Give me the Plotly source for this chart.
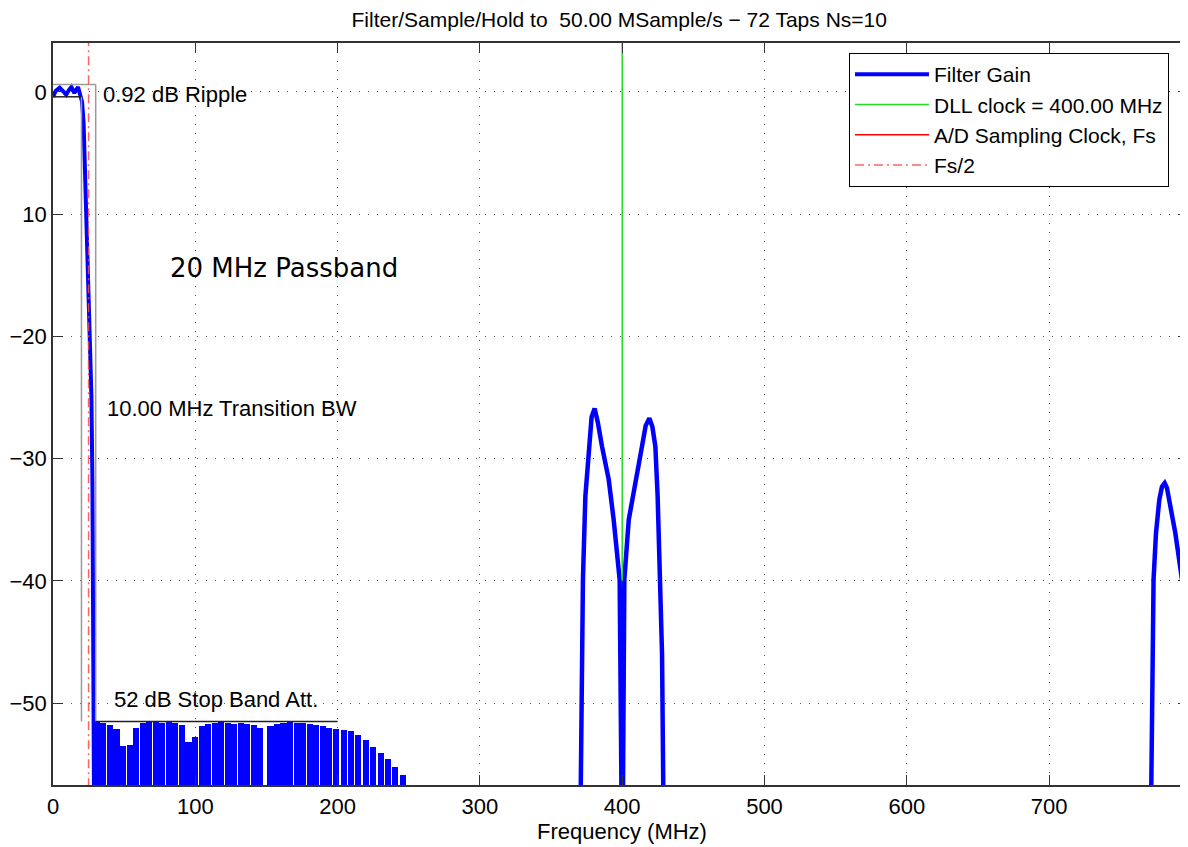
import plotly.graph_objects as go

# ---------------- data ----------------
title_text = "Filter/Sample/Hold to\u00a0 50.00 MSample/s \u2212 72 Taps Ns=10"

# passband ripple + transition band (MHz, dB)
pass_freq = [0.0, 2.0, 4.7, 7.0, 9.3, 11.2, 12.9, 14.2, 15.0, 16.2, 17.6, 19.2,
             20.4, 21.5, 22.2, 23.4, 24.6, 25.7, 27.0, 27.7, 28.1, 28.6, 28.9]
pass_gain = [-0.4, 0.1, 0.35, 0.05, -0.22, 0.15, 0.4, 0.1, -0.1, 0.15, 0.4, -0.3,
             -0.8, -2.5, -5.3, -9.9, -15.4, -20.0, -24.9, -32.0, -39.9, -47.5, -60.0]

# stop-band side-lobe peaks (MHz, dB)
stop_freq = [30.8, 35.4, 40.0, 44.6, 49.2, 53.8, 58.4, 63.0, 67.6, 72.2, 76.8,
             81.4, 86.0, 90.6, 95.2, 99.8, 104.4, 109.0, 113.6, 118.2, 122.8,
             127.4, 132.0, 136.6, 141.2, 145.6, 152.8, 157.4, 162.0, 166.6,
             171.2, 175.8, 180.4, 185.0, 189.6, 194.2, 198.8, 204.2, 209.4,
             214.6, 219.8, 225.0, 230.2, 235.4, 240.6, 245.8]
stop_peak = [-51.5, -51.6, -51.8, -52.1, -53.5, -53.4, -52.0, -51.6, -51.5, -51.5,
             -51.6, -51.5, -51.6, -51.8, -53.2, -52.8, -51.9, -51.7, -51.6, -51.5,
             -51.6, -51.7, -51.6, -51.7, -51.8, -52.0, -51.9, -51.7, -51.6, -51.5,
             -51.6, -51.6, -51.7, -51.8, -51.9, -52.0, -52.1, -52.2, -52.3, -52.6,
             -53.0, -53.6, -54.1, -54.6, -55.2, -55.9]
stop_floor = -60.0

# image response around the 400 MHz DLL clock
img400_freq = [370.6, 371.5, 372.4, 374.1, 376.4, 378.5, 380.6, 382.8, 385.8, 390.5,
               394.0, 398.2, 399.4, 400.0, 400.6, 401.5, 404.6, 409.3, 413.9, 416.5,
               419.1, 421.2, 423.3, 424.9, 426.8, 428.0, 429.1]
img400_gain = [-60.0, -45.6, -39.9, -33.1, -29.0, -26.6, -25.9, -27.0, -29.0, -31.7,
               -35.0, -39.9, -56.0, -70.0, -56.0, -39.9, -35.0, -31.7, -29.0, -27.3,
               -26.7, -27.4, -29.0, -33.1, -39.9, -46.0, -60.0]

# image response near 780 MHz
img780_freq = [771.5, 772.7, 773.4, 775.1, 777.4, 779.3, 781.2, 782.8, 784.5, 788.7,
               793.4, 795.7, 797.3, 800.7]
img780_gain = [-60.0, -45.6, -39.9, -36.1, -33.4, -32.3, -32.0, -32.4, -33.4, -36.1,
               -39.9, -42.9, -46.2, -49.7]

dll_clock = 400.0
dll_line_gain = [-40.0, 4.0]
fs = 50.0
fs_half = 25.0

ripple_top = 0.6
ripple_bottom = -0.4
passband_edge = 20.0
stopband_edge = 30.0
stopband_att = -51.5
stopband_line_end = 200.0

x_ticks = [0, 100, 200, 300, 400, 500, 600, 700]
y_ticks = [0, -10, -20, -30, -40, -50]
y_tick_text = ["0", "10", "\u221220", "\u221230", "\u221240", "\u221250"]

x_range = [0, 797.6]
y_range = [-56.7, 4.0]

# ---------------- figure ----------------
BLUE = "#0000ff"
fig = go.Figure()

fig.add_trace(go.Scatter(x=pass_freq, y=pass_gain, mode="lines", name="Filter Gain",
                         line=dict(color=BLUE, width=4), legendgroup="gain",
                         showlegend=True))
fig.add_trace(go.Bar(x=stop_freq, y=[p - stop_floor for p in stop_peak], base=stop_floor,
                     width=4.3, marker=dict(color=BLUE, line=dict(width=0)),
                     legendgroup="gain", showlegend=False))
fig.add_trace(go.Scatter(x=img400_freq, y=img400_gain, mode="lines",
                         line=dict(color=BLUE, width=4.5), legendgroup="gain",
                         showlegend=False))
fig.add_trace(go.Scatter(x=img780_freq, y=img780_gain, mode="lines",
                         line=dict(color=BLUE, width=4.5), legendgroup="gain",
                         showlegend=False))

fig.add_trace(go.Scatter(x=[dll_clock, dll_clock], y=dll_line_gain, mode="lines",
                         name="DLL clock = 400.00 MHz", legendgroup="dll",
                         line=dict(color="#22dd22", width=1.5)))
fig.add_trace(go.Scatter(x=[fs, fs], y=[None, None], mode="lines",
                         name="A/D Sampling Clock, Fs", legendgroup="ad",
                         line=dict(color="#ff0000", width=1.5)))

# annotation lines
GRAY = "#9a9a9a"
DARK = "#222222"
fig.add_trace(go.Scatter(x=[0, stopband_edge], y=[ripple_top, ripple_top], mode="lines",
                         line=dict(color=GRAY, width=1.5), showlegend=False))
fig.add_trace(go.Scatter(x=[stopband_edge, stopband_edge], y=[ripple_top, stopband_att],
                         mode="lines", line=dict(color=GRAY, width=1.5), showlegend=False))
fig.add_trace(go.Scatter(x=[passband_edge, passband_edge], y=[ripple_bottom, stopband_att],
                         mode="lines", line=dict(color=GRAY, width=1.5), showlegend=False))
fig.add_trace(go.Scatter(x=[0, passband_edge], y=[ripple_bottom, ripple_bottom], mode="lines",
                         line=dict(color=DARK, width=1.5), showlegend=False))
fig.add_trace(go.Scatter(x=[stopband_edge, stopband_line_end], y=[stopband_att, stopband_att],
                         mode="lines", line=dict(color=DARK, width=1.5), showlegend=False))

fig.add_trace(go.Scatter(x=[fs_half, fs_half], y=[-60, 10], mode="lines", name="Fs/2",
                         legendgroup="fs2",
                         line=dict(color="rgba(255,70,70,0.85)", width=1.5,
                                   dash="9px,4px,2px,4px")))

axis_common = dict(
    ticks="inside", ticklen=10, tickwidth=1, tickcolor="#333",
    showline=True, linecolor="#333", linewidth=1.5, mirror="ticks",
    showgrid=True, gridcolor="#555", gridwidth=1, griddash="1px,8px",
    zeroline=False, tickfont=dict(size=22, color="black"), automargin=False,
)
fig.update_xaxes(range=x_range, tickvals=x_ticks, ticktext=[str(v) for v in x_ticks],
                 ticklabelstandoff=1, **axis_common)
fig.update_yaxes(range=y_range, tickvals=y_ticks, ticktext=y_tick_text,
                 ticklabelstandoff=0, **axis_common)

annos = [
    dict(text="0.92 dB Ripple", x=33.9, y=-0.22, xanchor="left", yanchor="middle",
         font=dict(size=22)),
    dict(text="10.00 MHz Transition BW", x=36.8, y=-25.9, xanchor="left", yanchor="middle",
         font=dict(size=22)),
    dict(text="52 dB Stop Band Att.", x=41.7, y=-49.7, xanchor="left", yanchor="middle",
         font=dict(size=22)),
    dict(text="20 MHz Passband", x=81.0, y=-14.4, xanchor="left", yanchor="middle",
         font=dict(size=26, family="DejaVu Sans")),
]
for a in annos:
    fig.add_annotation(xref="x", yref="y", showarrow=False, **a)
fig.add_annotation(text="Frequency (MHz)", xref="paper", yref="paper", x=0.501,
                   y=-0.0633, xanchor="center", yanchor="middle", showarrow=False,
                   font=dict(size=22))

# page has an 8px body margin: plot area spans window x 53..1188, y 43..785
fig.update_layout(
    width=1180, height=839,
    margin=dict(l=45, r=0, t=35, b=62, pad=0),
    paper_bgcolor="white", plot_bgcolor="white",
    font=dict(family="Liberation Sans, Arial, sans-serif", size=22, color="black"),
    title=dict(text=title_text, x=0.518, xanchor="center", xref="container",
               y=1 - 12 / 839, yanchor="middle", yref="container",
               font=dict(size=21)),
    showlegend=True,
    legend=dict(x=0.7013, y=0.9865, xanchor="left", yanchor="top",
                bgcolor="white", bordercolor="black", borderwidth=1,
                itemwidth=74, tracegroupgap=0, font=dict(size=21),
                traceorder="normal"),
    bargap=0,
)

fig.write_html("out.html")
